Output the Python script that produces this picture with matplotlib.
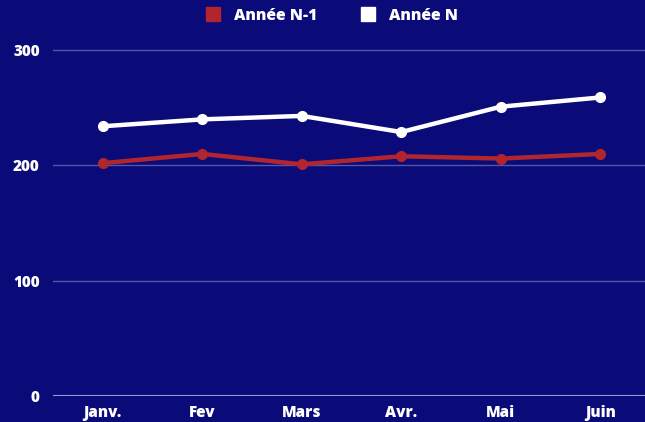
import matplotlib.pyplot as plt
from matplotlib.lines import Line2D

mois = ["Janv.", "Fev", "Mars", "Avr.", "Mai", "Juin"]
annee_n1 = [202, 210, 201, 208, 206, 210]
annee_n = [234, 240, 243, 229, 251, 259]
yticks = [0, 100, 200, 300]

bg = "#0a0a78"
rouge = "#b0252e"
blanc = "#ffffff"

plt.rcParams['font.family'] = ['Open Sans', 'DejaVu Sans']

fig = plt.figure(figsize=(6.45, 4.22), dpi=100, facecolor=bg)
ax = fig.add_axes([53 / 645, 26 / 422, 1 - 53 / 645, (422 - 26 - 26) / 422])
ax.set_facecolor(bg)

x = list(range(len(mois)))
ax.plot(x, annee_n1, color=rouge, lw=3.2, marker='o', ms=7, solid_capstyle='round')
ax.plot(x, annee_n, color=blanc, lw=3.2, marker='o', ms=7, solid_capstyle='round')

ax.set_xlim(-0.5, 5.45)
ax.set_ylim(0, 321)
ax.set_yticks(yticks)
ax.set_xticks(x)
ax.set_xticklabels(mois)
for y in yticks[1:]:
    ax.axhline(y, color="#5656a8", lw=1, zorder=0)
ax.axhline(0, color="#9a9ad8", lw=1.5, zorder=0)

for s in ax.spines.values():
    s.set_visible(False)
ax.tick_params(length=0, colors=blanc, labelsize=11)
ax.tick_params(axis='y', pad=9.5)
ax.tick_params(axis='x', pad=6.5)
for lab in ax.get_xticklabels() + ax.get_yticklabels():
    lab.set_fontweight(800)
    lab.set_color(blanc)

handles = [
    Line2D([], [], color=rouge, marker='s', ls='', ms=10),
    Line2D([], [], color=blanc, marker='s', ls='', ms=10),
]
fig.legend(handles, ["Année N-1", "Année N"], loc='upper center',
           bbox_to_anchor=(0.513, 1.015), ncol=2, frameon=False,
           labelcolor=blanc, prop={'weight': 800, 'size': 11.3},
           handletextpad=0.75, columnspacing=2.6, handlelength=1.2)

fig.savefig("out.png", facecolor=bg)
